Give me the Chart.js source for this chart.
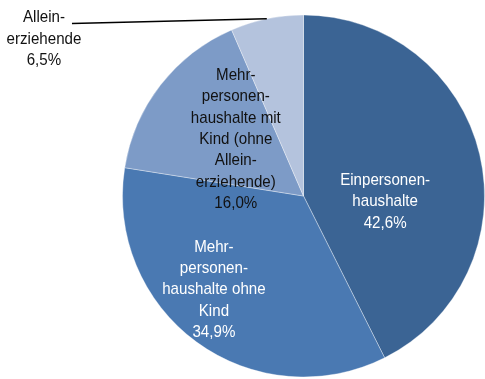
<!DOCTYPE html>
<html>
<head>
<meta charset="utf-8">
<script src="https://cdn.jsdelivr.net/npm/chart.js@4/dist/chart.umd.min.js"></script>
<style>
  html, body { margin: 0; padding: 0; background: #ffffff; }
  #wrap { width: 485px; height: 379px; }
</style>
</head>
<body>
<div id="wrap"><canvas id="pie" width="485" height="379"></canvas></div>
<script>
// Household types (each label split into its printed lines)
const categories = [
  ['Einpersonen-', 'haushalte'],
  ['Mehr-', 'personen-', 'haushalte ohne', 'Kind'],
  ['Mehr-', 'personen-', 'haushalte mit', 'Kind (ohne', 'Allein-', 'erziehende)'],
  ['Allein-', 'erziehende']
];
// Share of households in percent
const shares = [42.6, 34.9, 16.0, 6.5];

const sliceColors = ['#3b6494', '#4a79b2', '#7d9bc7', '#b4c3dd'];
const textColors = ['#ffffff', '#ffffff', '#111111', '#111111'];
// Label anchor (middle line baseline) relative to pie centre, in radius units
const labelAnchors = [[0.451, 0.058], [-0.495, 0.544], [-0.374, -0.287], [-1.434, -0.841]];

const FONT_SIZE = 17;
const LINE_H = 21.3;
const X_SCALE = 0.89;

function fmt(v) { return v.toFixed(1).replace('.', ',') + '%'; }

const labelPlugin = {
  id: 'sliceLabels',
  afterDatasetsDraw(chart) {
    const ctx = chart.ctx;
    const meta = chart.getDatasetMeta(0);
    ctx.save();
    ctx.font = FONT_SIZE + 'px "Liberation Sans", Arial, sans-serif';
    ctx.textAlign = 'center';
    ctx.textBaseline = 'alphabetic';
    meta.data.forEach((arc, i) => {
      const p = arc.getProps(['x', 'y', 'startAngle', 'endAngle', 'outerRadius'], true);
      const R = p.outerRadius;
      const lines = categories[i].concat([fmt(shares[i])]);
      const ax = p.x + labelAnchors[i][0] * R;
      const ay = p.y + labelAnchors[i][1] * R;
      const firstBase = ay - (lines.length - 1) / 2 * LINE_H;
      ctx.fillStyle = textColors[i];
      lines.forEach((t, k) => {
        ctx.save();
        ctx.translate(ax, firstBase + k * LINE_H);
        ctx.scale(X_SCALE, 1);
        ctx.fillText(t, 0, 0);
        ctx.restore();
      });
      // leader line for the label placed outside the pie
      if (labelAnchors[i][0] * labelAnchors[i][0] + labelAnchors[i][1] * labelAnchors[i][1] > 1) {
        const mid = (p.startAngle + p.endAngle) / 2;
        const ex = p.x + Math.cos(mid) * R;
        const ey = p.y + Math.sin(mid) * R;
        const w = ctx.measureText(lines[0]).width * X_SCALE;
        ctx.beginPath();
        ctx.moveTo(ex, ey);
        ctx.lineTo(ax + w / 2 + 7, firstBase + 1);
        ctx.strokeStyle = '#000000';
        ctx.lineWidth = 1.6;
        ctx.stroke();
      }
    });
    ctx.restore();
  }
};

new Chart(document.getElementById('pie'), {
  type: 'pie',
  data: {
    labels: categories.map(c => c.join(' ')),
    datasets: [{
      data: shares,
      backgroundColor: sliceColors,
      borderColor: 'rgba(255,255,255,0.35)',
      borderWidth: 1
    }]
  },
  options: {
    responsive: false,
    animation: false,
    devicePixelRatio: 1,
    layout: { padding: { left: 122, right: -3, top: 13, bottom: 0 } },
    plugins: {
      legend: { display: false },
      tooltip: { enabled: false }
    }
  },
  plugins: [labelPlugin]
});
</script>
</body>
</html>
